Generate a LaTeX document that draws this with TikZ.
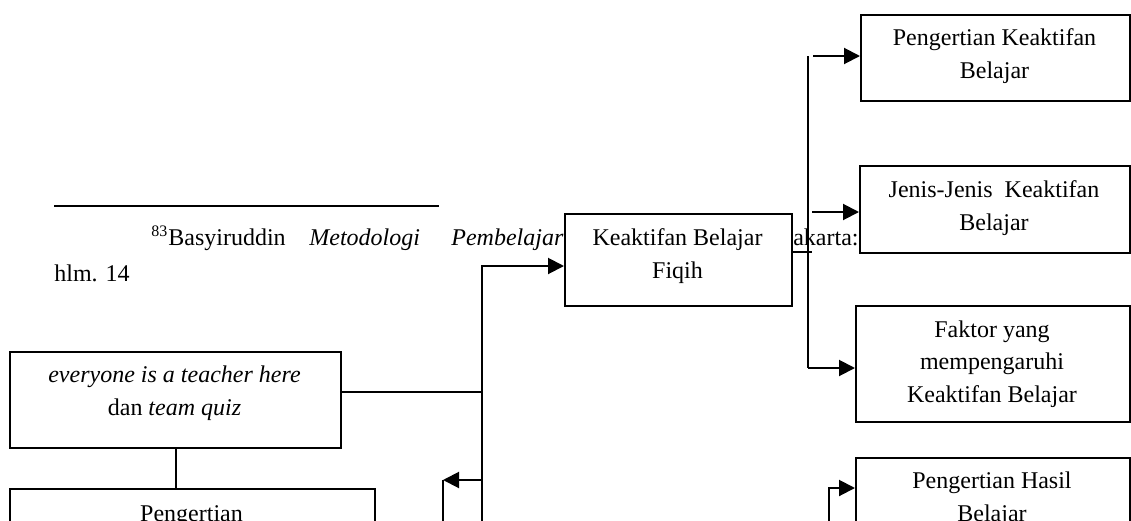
\documentclass[tikz,border=0pt]{standalone}
\usepackage{fontspec}
\setmainfont{Liberation Serif}
\usetikzlibrary{arrows.meta}
\tikzset{
  box/.style={draw, line width=1pt, fill=white, inner sep=0pt, anchor=north west},
  lbl/.style={anchor=base, align=center, inner sep=0pt, font=\fontsize{12}{16.25}\selectfont},
  txt/.style={inner sep=0pt, font=\fontsize{12}{16}\selectfont},
  conn/.style={line width=1pt},
  arr/.style={line width=1pt, -{Triangle[length=8pt,width=8pt]}}
}
\begin{document}
\begin{tikzpicture}[x=0.5pt,y=-0.5pt]
\useasboundingbox (0,0) rectangle (1131,520);
\clip (0,0) rectangle (1131,520);
\fill[white] (0,0) rectangle (1131,520);
% footnote text lying behind the boxes
\draw[line width=1pt] (54,206) -- (439,206);
\node[txt, anchor=base west] (fn1) at (151,245) {\textsuperscript{83}Basyiruddin};
\node[txt, anchor=base west] (fn2) at (309,245) {\textit{Metodologi}};
\node[txt, anchor=base west] (fn3) at (451,245) {\textit{Pembelajaran}};
\node[txt, anchor=base east] (fn4) at (859,245) {Jakarta:};
\node[txt, anchor=base west] (fn5) at (54,281) {hlm. 14};
% boxes
\node[box, minimum width=113.5pt, minimum height=46pt] (K) at (564,213) {};
\node[box, minimum width=134.5pt, minimum height=43pt] (B1) at (860,14) {};
\node[box, minimum width=135pt, minimum height=43.5pt] (B2) at (859,165) {};
\node[box, minimum width=137pt, minimum height=58pt] (B3) at (855,305) {};
\node[box, minimum width=137pt, minimum height=60pt] (B4) at (855,457) {};
\node[box, minimum width=165.5pt, minimum height=48pt] (E) at (9,351) {};
\node[box, minimum width=182.5pt, minimum height=50pt] (P) at (9,488) {};
% labels (anchor = baseline of the last line)
\node[lbl] (Kt) at (677.5,278) {Keaktifan Belajar\\Fiqih};
\node[lbl] (B1t) at (994.5,78) {Pengertian Keaktifan\\Belajar};
\node[lbl] (B2t) at (994,230) {Jenis-Jenis\ \ Keaktifan\\Belajar};
\node[lbl] (B3t) at (992,402) {Faktor yang\\mempengaruhi\\Keaktifan Belajar};
\node[lbl] (B4t) at (992,521) {Pengertian Hasil\\Belajar};
\node[lbl] (Et) at (174.5,415) {\textit{everyone is a teacher here}\\dan \textit{team quiz}};
\node[lbl] (Pt) at (191.5,521) {Pengertian};
% connector points
\coordinate (trunkL) at (482,540);
\coordinate (jE) at (482,392);
\coordinate (jK) at (482,266);
\coordinate (jL) at (482,480);
\coordinate (tL) at (443,480);
\coordinate (tLb) at (443,540);
\coordinate (rK) at (812,252);
\coordinate (vT) at (808,56);
\coordinate (vB) at (808,368);
\coordinate (s1) at (813,56);
\coordinate (s2) at (812,212);
\coordinate (hB) at (829,540);
\coordinate (hC) at (829,488);
% connectors
\draw[conn] (E.east |- jE) -- (jE);
\draw[conn] (E.south |- 0,447) -- (P.north -| E.south);
\draw[arr] (trunkL) -- (jK) -- (K.west |- jK);
\draw[arr] (jL) -- (tL);
\draw[conn] (tL) -- (tLb);
\draw[conn] (K.east |- rK) -- (rK);
\draw[conn] (vT) -- (vB);
\draw[arr] (s1) -- (B1.west |- s1);
\draw[arr] (s2) -- (B2.west |- s2);
\draw[arr] (vB) -- (B3.west |- vB);
\draw[arr] (hB) -- (hC) -- (B4.west |- hC);
\end{tikzpicture}
\end{document}
